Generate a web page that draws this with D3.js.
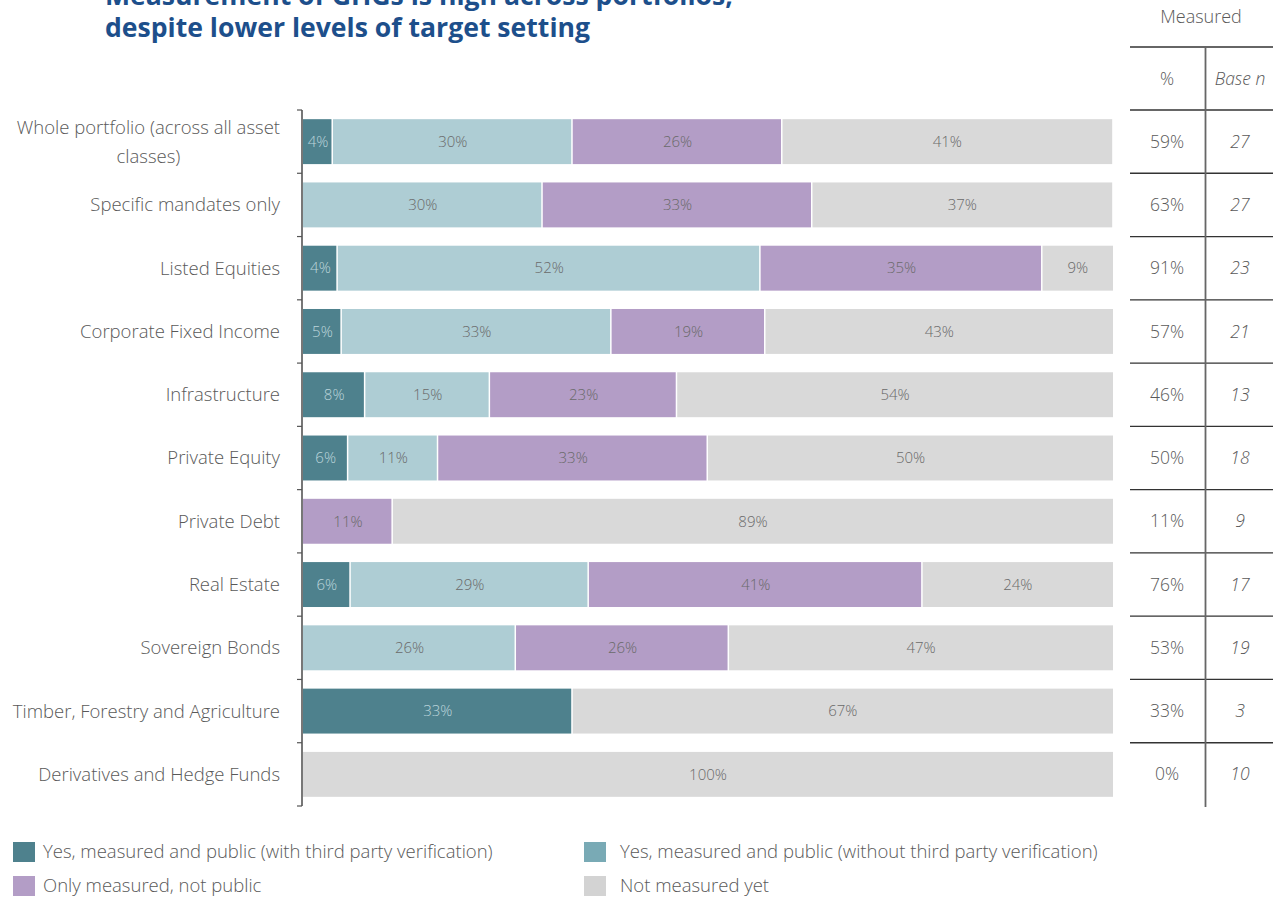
<!DOCTYPE html>
<html>
<head>
<meta charset="utf-8">
<script src="https://cdn.jsdelivr.net/npm/d3@7/dist/d3.min.js"></script>
<style>
  html, body { margin: 0; padding: 0; background: #fff; }
  svg { display: block; }
  text { font-family: "Open Sans", "Lato", sans-serif; font-weight: 300; }
</style>
</head>
<body>
<svg id="chart" width="1283" height="897"></svg>
<script>
const titleLines = ["Measurement of GHGs is high across portfolios,", "despite lower levels of target setting"];
const categories = [
  "Whole portfolio (across all asset classes)",
  "Specific mandates only",
  "Listed Equities",
  "Corporate Fixed Income",
  "Infrastructure",
  "Private Equity",
  "Private Debt",
  "Real Estate",
  "Sovereign Bonds",
  "Timber, Forestry and Agriculture",
  "Derivatives and Hedge Funds"
];
const seriesNames = [
  "Yes, measured and public (with third party verification)",
  "Yes, measured and public (without third party verification)",
  "Only measured, not public",
  "Not measured yet"
];
const withVerification    = [3.7, 0, 4.3, 4.8, 7.7, 5.6, 0, 5.9, 0, 33.3, 0];
const withoutVerification = [29.6, 29.6, 52.2, 33.3, 15.4, 11.1, 0, 29.4, 26.3, 0, 0];
const measuredNotPublic   = [25.9, 33.3, 34.8, 19.0, 23.1, 33.3, 11.1, 41.2, 26.3, 0, 0];
const notMeasured         = [40.7, 37.0, 8.7, 42.9, 53.8, 50.0, 88.9, 23.5, 47.4, 66.7, 100];
const measuredPct = ["59%", "63%", "91%", "57%", "46%", "50%", "11%", "76%", "53%", "33%", "0%"];
const baseN = ["27", "27", "23", "21", "13", "18", "9", "17", "19", "3", "10"];

const barColors = ["#4e818d", "#aecdd4", "#b39dc6", "#d9d9d9"];
const swatchColors = ["#4e818d", "#79aab5", "#b39dc6", "#d3d3d3"];
const labelColors = ["#bcd5db", "#6a6a6a", "#6a6a6a", "#6a6a6a"];

const svg = d3.select("#chart");
const keys = ["a", "b", "c", "d"];
const rows = categories.map((c, i) => ({
  cat: c, a: withVerification[i], b: withoutVerification[i], c: measuredNotPublic[i], d: notMeasured[i]
}));

const y = d3.scaleBand().domain(categories).range([110, 806]).paddingInner(0.29).paddingOuter(0.145);
const x = d3.scaleLinear().domain([0, 100]).range([303, 1113]);

// Title (one text element, two lines)
const title = svg.append("text")
  .attr("fill", "#1d4f8b").attr("font-size", 26.6).style("font-weight", 700);
title.selectAll("tspan").data(titleLines).join("tspan")
  .attr("x", 105).attr("y", (d, i) => 5 + i * 32)
  .text(d => d);

// Stacked bars
const stack = d3.stack().keys(keys)(rows);
const gBars = svg.append("g");
stack.forEach((layer, li) => {
  const g = gBars.append("g");
  g.selectAll("rect").data(layer.filter(d => d[1] - d[0] > 0)).join("rect")
    .attr("x", d => x(d[0]))
    .attr("y", d => y(d.data.cat))
    .attr("width", d => Math.max(0, x(d[1]) - x(d[0]) - (li < 3 ? 1.5 : 0)))
    .attr("height", y.bandwidth())
    .attr("fill", barColors[li]);
  g.selectAll("text").data(layer.filter(d => d[1] - d[0] > 0)).join("text")
    .attr("x", d => (x(d[0]) + x(d[1])) / 2)
    .attr("y", d => y(d.data.cat) + y.bandwidth() / 2)
    .attr("dy", "0.35em")
    .attr("text-anchor", "middle")
    .attr("font-size", 15)
    .attr("fill", labelColors[li])
    .text(d => Math.round(d[1] - d[0]) + "%");
});

// Y axis (ticks at band boundaries)
const bounds = d3.range(categories.length + 1).map(i => 110 + i * (696 / categories.length));
const axisG = svg.append("g");
axisG.append("line").attr("x1", 302).attr("x2", 302).attr("y1", bounds[0]).attr("y2", bounds[bounds.length - 1])
  .attr("stroke", "#777").attr("stroke-width", 2);
axisG.selectAll("line.tick").data(bounds).join("line").attr("class", "tick")
  .attr("x1", 297).attr("x2", 302).attr("y1", d => d).attr("y2", d => d)
  .attr("stroke", "#555").attr("stroke-width", 1.2);

// Category labels
const labG = svg.append("g");
const labSize = 18.5;
categories.forEach((c, i) => {
  const cy = y(c) + y.bandwidth() / 2;
  if (i === 0) {
    const lines = ["Whole portfolio (across all asset", "classes)"];
    const t1 = labG.append("text").attr("x", 280).attr("y", cy - 14).attr("dy", "0.35em")
      .attr("text-anchor", "end").attr("font-size", labSize).attr("fill", "#595959").text(lines[0]);
    const w = t1.node().getComputedTextLength();
    labG.append("text").attr("x", 280 - w / 2).attr("y", cy + 15).attr("dy", "0.35em")
      .attr("text-anchor", "middle").attr("font-size", labSize).attr("fill", "#595959").text(lines[1]);
  } else {
    labG.append("text").attr("x", 280).attr("y", cy).attr("dy", "0.35em")
      .attr("text-anchor", "end").attr("font-size", labSize).attr("fill", "#595959").text(c);
  }
});

// Table
const tG = svg.append("g");
const tSize = 17.5;
tG.append("text").attr("x", 1201).attr("y", 17).attr("dy", "0.35em").attr("text-anchor", "middle")
  .attr("font-size", 18).attr("fill", "#595959").text("Measured");
tG.append("text").attr("x", 1167).attr("y", 79).attr("dy", "0.35em").attr("text-anchor", "middle")
  .attr("font-size", tSize).attr("fill", "#595959").text("%");
tG.append("text").attr("x", 1240).attr("y", 79).attr("dy", "0.35em").attr("text-anchor", "middle")
  .attr("font-size", tSize).attr("fill", "#595959").style("font-style", "italic").text("Base n");
const hLines = [47].concat(bounds.slice(0, bounds.length - 1));
tG.selectAll("line.h").data(hLines).join("line").attr("class", "h")
  .attr("x1", 1130).attr("x2", 1273).attr("y1", d => d).attr("y2", d => d)
  .attr("stroke", "#333").attr("stroke-width", 1.3);
tG.append("line").attr("x1", 1205.5).attr("x2", 1205.5).attr("y1", 47).attr("y2", 807)
  .attr("stroke", "#666").attr("stroke-width", 1.8);
tG.selectAll("text.pct").data(measuredPct).join("text").attr("class", "pct")
  .attr("x", 1167).attr("y", (d, i) => y(categories[i]) + y.bandwidth() / 2).attr("dy", "0.35em")
  .attr("text-anchor", "middle").attr("font-size", tSize).attr("fill", "#595959").text(d => d);
tG.selectAll("text.n").data(baseN).join("text").attr("class", "n")
  .attr("x", 1240).attr("y", (d, i) => y(categories[i]) + y.bandwidth() / 2).attr("dy", "0.35em")
  .attr("text-anchor", "middle").attr("font-size", tSize).attr("fill", "#595959").style("font-style", "italic").text(d => d);

// Legend
const legPos = [[13, 852], [584, 852], [13, 886], [584, 886]];
const lg = svg.append("g");
seriesNames.forEach((s, i) => {
  const [lx, ly] = legPos[i];
  lg.append("rect").attr("x", lx).attr("y", ly - 10).attr("width", 22).attr("height", 20).attr("fill", swatchColors[i]);
  lg.append("text").attr("x", lx + (i % 2 ? 36 : 30)).attr("y", ly).attr("dy", "0.35em").attr("font-size", 18.5)
    .attr("fill", "#595959").text(s);
});
</script>
</body>
</html>
